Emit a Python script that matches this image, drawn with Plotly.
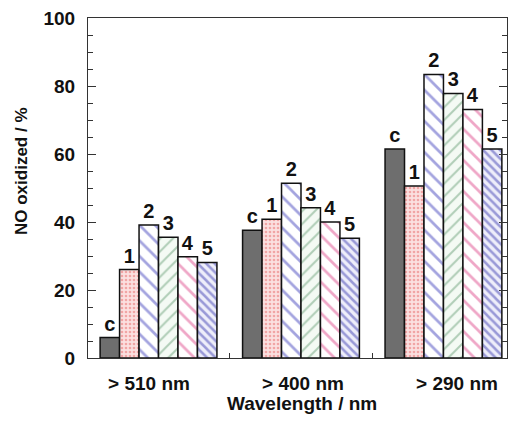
import plotly.graph_objects as go

categories = ["> 510 nm", "> 400 nm", "> 290 nm"]
label_positions = [-0.067, 1.014, 2.095]
series_names = ["c", "1", "2", "3", "4", "5"]
values_c = [6.0, 37.6, 61.5]
values_1 = [26.0, 40.8, 50.6]
values_2 = [39.1, 51.4, 83.4]
values_3 = [35.5, 44.2, 77.8]
values_4 = [29.8, 40.0, 73.1]
values_5 = [28.1, 35.2, 61.5]
all_values = [values_c, values_1, values_2, values_3, values_4, values_5]

styles = [
    dict(color="#6e6e6e", pattern=dict(shape="")),
    dict(color="#fbe0e0", pattern=dict(shape=".", fgcolor="#e86a6a", size=4, solidity=0.35, bgcolor="#fbe0e0")),
    dict(color="#ffffff", pattern=dict(shape="\\", fgcolor="#4a4ac0", size=11, solidity=0.25, bgcolor="#ffffff")),
    dict(color="#f4faf4", pattern=dict(shape="/", fgcolor="#6aa078", size=9, solidity=0.22, bgcolor="#f4faf4")),
    dict(color="#ffffff", pattern=dict(shape="\\", fgcolor="#e0508f", size=11, solidity=0.25, bgcolor="#ffffff")),
    dict(color="#eeeefa", pattern=dict(shape="\\", fgcolor="#4444b4", size=6, solidity=0.42, bgcolor="#eeeefa")),
]

font_family = "Liberation Sans, Arial, sans-serif"

fig = go.Figure()
for name, vals, st in zip(series_names, all_values, styles):
    fig.add_trace(go.Bar(
        x=categories, y=vals, name=name,
        marker=dict(color=st["color"], pattern=st["pattern"],
                    line=dict(color="#111111", width=1.5)),
        text=[name] * len(vals), textposition="outside",
        textfont=dict(family=font_family, size=20, color="#111111", weight="bold"),
        constraintext="none", cliponaxis=False,
    ))

# invisible helper trace on the label axis
fig.add_trace(go.Scatter(x=label_positions, y=[0, 0, 0], xaxis="x2", mode="markers",
                         marker=dict(opacity=0), hoverinfo="skip", showlegend=False))

fig.update_layout(
    width=509, height=424,
    margin=dict(l=88, r=2, t=18, b=66),
    barmode="group", bargap=0.18, bargroupgap=0,
    showlegend=False,
    plot_bgcolor="white", paper_bgcolor="white",
    font=dict(family=font_family, color="#111111"),
    xaxis=dict(
        type="category", range=[-0.495, 2.446],
        showline=True, linecolor="#333333", linewidth=1.2, mirror=True,
        ticks="inside", tickson="boundaries", ticklen=5, tickcolor="#333333",
        showticklabels=False, showgrid=False,
    ),
    xaxis2=dict(
        overlaying="x", side="bottom", range=[-0.495, 2.446],
        tickvals=label_positions, ticktext=categories, ticks="",
        showline=False, showgrid=False, zeroline=False,
        tickfont=dict(size=19, weight="bold", family=font_family),
        ticklabelstandoff=12,
    ),
    yaxis=dict(
        range=[0, 100], tickvals=[0, 20, 40, 60, 80, 100],
        showline=True, linecolor="#333333", linewidth=1.2, mirror="ticks",
        ticks="inside", ticklen=8, tickcolor="#333333",
        minor=dict(dtick=5, ticks="inside", ticklen=5, tickcolor="#333333", showgrid=False),
        tickfont=dict(size=19, weight="bold", family=font_family),
        ticklabelstandoff=8, showgrid=False, zeroline=False,
    ),
    annotations=[
        dict(text="NO oxidized / %", xref="paper", yref="paper", x=0, y=0.55,
             xshift=-66, xanchor="center", yanchor="middle", textangle=-90,
             showarrow=False, font=dict(size=17, weight="bold", family=font_family)),
        dict(text="Wavelength / nm", xref="paper", yref="paper", x=0.51, y=0,
             yshift=-45, xanchor="center", yanchor="middle",
             showarrow=False, font=dict(size=19, weight="bold", family=font_family)),
    ],
)

fig.write_html("out.html")
